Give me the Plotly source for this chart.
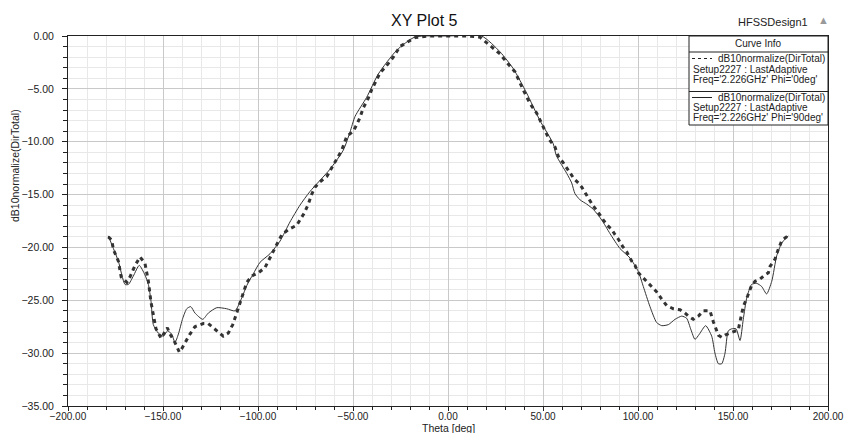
import plotly.graph_objects as go

# ---------------- data ----------------
theta_phi0 = [-178.8, -177, -176.1, -173.5, -172, -169, -167.4, -164.7, -162.1, -159.5,
              -157.7, -156.3, -153.7, -151, -147.7, -146.3, -143.7, -141.4, -140.2, -137.9,
              -135.8, -133.2, -128.8, -126.2, -123.5, -120.9, -118.3, -115.6, -113.3, -111.2,
              -109.5, -107.7, -105.9, -103.3, -99.8, -96.3, -91.9, -89.8, -87.5, -84,
              -79.6, -77.9, -75.8, -73.5, -71.8, -70, -67.4, -63.8, -60.4, -55.9,
              -53.3, -49.8, -48.1, -46.3, -44.6, -42, -40.2, -37.5, -35.8, -32.3,
              -28.8, -25.3, -20.9, -17.4, -10, 0, 10, 16.8, 22.1, 27.4,
              30.9, 35.3, 39.6, 43.2, 46.7, 50.2, 53.3, 56.3, 58.1, 60.7,
              62.5, 64.6, 66.3, 68.6, 70.4, 72.1, 74.4, 76.5, 78.3, 80.4,
              82.1, 83.8, 86.2, 87.9, 89.6, 91.9, 94, 96.7, 98.4, 100.2,
              102.8, 105.4, 109.8, 112.5, 115.1, 118.6, 122.1, 124.7, 126.5, 129.1,
              131.8, 134.4, 137.9, 139.6, 142.3, 144.1, 145.8, 148.4, 151.1, 152.8,
              153.7, 155.4, 157.7, 159.8, 161.6, 164.2, 166.8, 168.6, 169.5, 172.1,
              173.8, 175.6, 177.4, 179.1]
db_phi0 = [-19.0, -19.3, -20.2, -21.3, -22.8, -23.3, -22.8, -21.7, -20.9, -21.5,
           -23.2, -25.2, -27.7, -28.6, -27.6, -28.2, -29.0, -29.9, -29.6, -28.8,
           -28.2, -27.5, -27.2, -27.2, -27.6, -28.0, -28.4, -28.1, -27.3, -26.2,
           -25.2, -24.2, -23.3, -22.7, -22.4, -21.9, -20.3, -19.6, -18.8, -18.3,
           -17.9, -17.4, -16.8, -15.9, -15.0, -14.3, -13.8, -13.3, -12.2, -10.8,
           -9.5, -9.0, -8.4, -7.7, -6.8, -5.9, -5.1, -4.2, -3.5, -2.8,
           -2.0, -1.0, -0.5, -0.15, 0, 0, 0, -0.1, -0.9, -1.7,
           -2.5, -3.4, -5.1, -6.4, -7.3, -8.6, -9.8, -10.5, -11.4, -12.0,
           -12.5, -13.0, -13.5, -13.9, -14.3, -14.8, -15.5, -16.1, -16.5, -17.1,
           -17.5, -17.9, -18.3, -18.8, -19.2, -19.9, -20.4, -21.3, -21.7, -22.4,
           -22.9, -23.3, -24.2, -24.9, -25.5, -25.8, -25.9, -26.2, -26.5, -26.8,
           -26.5, -26.0, -26.0, -27.0, -28.3, -28.5, -28.3, -28.1, -27.9, -27.8,
           -27.0, -25.6, -24.6, -23.6, -23.2, -23.0, -22.6, -22.4, -21.8, -21.1,
           -20.2, -19.4, -19.1, -18.9]

theta_phi90 = [-178.8, -176.1, -173.5, -170, -168.2, -165.6, -162.5, -159.5, -157.7, -156.3,
               -155.1, -152.5, -149.8, -147.7, -145.4, -143.7, -141.9, -139.6, -137.5, -135.4,
               -133.2, -129.1, -126.1, -121.7, -116.5, -112.1, -108.6, -105.9, -102.5, -98.9,
               -93.7, -88.4, -83.2, -77.9, -72.6, -62.1, -55.1, -51.6, -48.9, -42.8,
               -36.7, -27, -17.4, 0, 17.7, 27.4, 34.4, 41.4, 48.4, 55.4,
               57, 62.5, 65.1, 66.8, 69.5, 73, 76.5, 80.9, 85.3, 90.5,
               95.8, 100.2, 102.8, 106.3, 109.8, 112.5, 116, 119.5, 123, 125.6,
               127.9, 130, 132.3, 135.6, 138.8, 140.5, 142.3, 144.1, 145.8, 147.5,
               149.3, 151.6, 153.7, 155.4, 157.2, 159.8, 162.5, 165.1, 167.7, 170.4,
               173, 175.6, 179.1]
db_phi90 = [-18.9, -20.1, -21.3, -23.5, -23.5, -22.7, -21.7, -22.6, -23.5, -25.1,
            -27.3, -28.1, -28.4, -27.9, -28.2, -29.0, -28.2, -26.7, -25.8, -25.6,
            -26.2, -26.8, -26.2, -25.7, -25.8, -26.0, -24.8, -23.6, -22.5, -21.4,
            -20.6, -19.4, -17.6, -16.0, -14.7, -12.6, -10.8, -9.1, -7.6, -5.8,
            -3.6, -1.35, -0.1, 0, 0, -1.5, -3.1, -5.4, -8.0, -10.2,
            -11.3, -13.0, -13.9, -14.9, -15.5, -15.9, -16.4, -17.4, -18.7, -20.1,
            -21.0, -22.3, -23.7, -25.6, -27.1, -27.4, -27.3, -26.8, -26.5, -26.7,
            -27.8, -28.7, -28.2, -27.4, -28.4, -30.0, -31.0, -31.0, -30.0, -27.9,
            -27.7, -27.7, -28.8, -26.8, -24.8, -23.5, -23.4, -23.7, -24.4, -23.2,
            -20.8, -19.6, -18.9]

x_range = [-200, 200]
y_range = [-35, 0]

title_text = "XY Plot 5"
design_text = "HFSSDesign1"
x_title = "Theta [deg]"
y_title = "dB10normalize(DirTotal)"
legend_header = "Curve Info"
legend_entries = [
    ["dB10normalize(DirTotal)", "Setup2227 : LastAdaptive", "Freq='2.226GHz' Phi='0deg'"],
    ["dB10normalize(DirTotal)", "Setup2227 : LastAdaptive", "Freq='2.226GHz' Phi='90deg'"],
]

# ---------------- layout geometry ----------------
W, H = 844, 433
L, R, T, B = 68, 16, 36, 27
PW, PH = W - L - R, H - T - B
FONT = "Liberation Sans, Arial, sans-serif"
INK = "#333333"


def px(x):
    return (x - L) / PW


def py(y):
    return (H - B - y) / PH


fig = go.Figure()
fig.add_trace(go.Scatter(
    x=theta_phi0, y=db_phi0, mode="lines",
    line=dict(color=INK, width=3, dash="4px,4px"),
    showlegend=False, hoverinfo="skip"))
fig.add_trace(go.Scatter(
    x=theta_phi90, y=db_phi90, mode="lines",
    line=dict(color=INK, width=1, shape="spline", smoothing=0.6),
    showlegend=False, hoverinfo="skip"))

axis_common = dict(
    showline=True, linecolor="#222", linewidth=1, mirror=True,
    ticks="outside", ticklen=5, tickcolor="#222", automargin=False,
    tickformat=".2f", tickfont=dict(family=FONT, size=10.5, color="#222"),
    gridcolor="#c9c9c9", gridwidth=1, zeroline=False,
)
fig.update_xaxes(range=x_range, dtick=50, tick0=-200,
                 minor=dict(dtick=10, showgrid=True, gridcolor="#e8e8e8",
                            ticks="outside", ticklen=3, tickcolor="#222"),
                 **axis_common)
fig.update_xaxes(ticklen=4, ticklabelstandoff=-3,
                 tickfont=dict(family=FONT, size=10, color="#222"))
fig.update_yaxes(range=y_range, dtick=5, tick0=0, ticklabelstandoff=6,
                 minor=dict(dtick=1, showgrid=True, gridcolor="#e8e8e8",
                            ticks="outside", ticklen=4, tickcolor="#222"),
                 **axis_common)

ann = []
ann.append(dict(text=title_text, x=px(424), y=py(21), xref="paper", yref="paper",
                showarrow=False, font=dict(family=FONT, size=16, color="#111"),
                xanchor="center", yanchor="middle"))
ann.append(dict(text=design_text, x=px(810), y=py(22), xref="paper", yref="paper",
                showarrow=False, font=dict(family=FONT, size=11, color="#222"),
                xanchor="right", yanchor="middle"))
ann.append(dict(text="▲", x=px(823), y=py(20), xref="paper", yref="paper",
                showarrow=False, font=dict(family=FONT, size=11, color="#999"),
                xanchor="center", yanchor="middle"))
ann.append(dict(text=x_title, x=px(448), y=py(427.5), xref="paper", yref="paper",
                showarrow=False, font=dict(family=FONT, size=10.5, color="#222"),
                xanchor="center", yanchor="middle", borderpad=0))
ann.append(dict(text=y_title, x=px(15), y=py(166), xref="paper", yref="paper",
                showarrow=False, textangle=-90,
                font=dict(family=FONT, size=10.5, color="#222"),
                xanchor="center", yanchor="middle"))

# legend box ("Curve Info")
bx0, bx1, by0, by1 = 689, 828, 36, 125
shapes = [
    dict(type="rect", xref="paper", yref="paper", x0=px(bx0), x1=px(bx1),
         y0=py(by1), y1=py(by0), fillcolor="white", line=dict(color="#222", width=1),
         layer="above"),
    dict(type="line", xref="paper", yref="paper", x0=px(bx0), x1=px(bx1),
         y0=py(52), y1=py(52), line=dict(color="#222", width=1)),
    dict(type="line", xref="paper", yref="paper", x0=px(bx0), x1=px(bx1),
         y0=py(91.5), y1=py(91.5), line=dict(color="#222", width=1)),
    dict(type="line", xref="paper", yref="paper", x0=px(692), x1=px(712),
         y0=py(58.5), y1=py(58.5), line=dict(color="#222", width=1, dash="3px,3px")),
    dict(type="line", xref="paper", yref="paper", x0=px(692), x1=px(712),
         y0=py(97.5), y1=py(97.5), line=dict(color="#222", width=1)),
]
ann.append(dict(text=legend_header, x=px((bx0 + bx1) / 2), y=py(43.5), xref="paper",
                yref="paper", showarrow=False, xanchor="center", yanchor="middle",
                font=dict(family=FONT, size=10, color="#222")))
entry_rows = [[58.5, 69, 79], [97.5, 107.5, 117]]
for entry, rows in zip(legend_entries, entry_rows):
    for i, (txt, yy) in enumerate(zip(entry, rows)):
        ann.append(dict(text=txt, x=px(827 if i == 0 else 691), y=py(yy),
                        xref="paper", yref="paper", showarrow=False,
                        xanchor="right" if i == 0 else "left", yanchor="middle",
                        font=dict(family=FONT, size=10, color="#222")))

fig.update_layout(
    width=W, height=H, margin=dict(l=L, r=R, t=T, b=B, autoexpand=False),
    paper_bgcolor="white", plot_bgcolor="white",
    annotations=ann, shapes=shapes, showlegend=False,
)

fig.write_html("out.html")
